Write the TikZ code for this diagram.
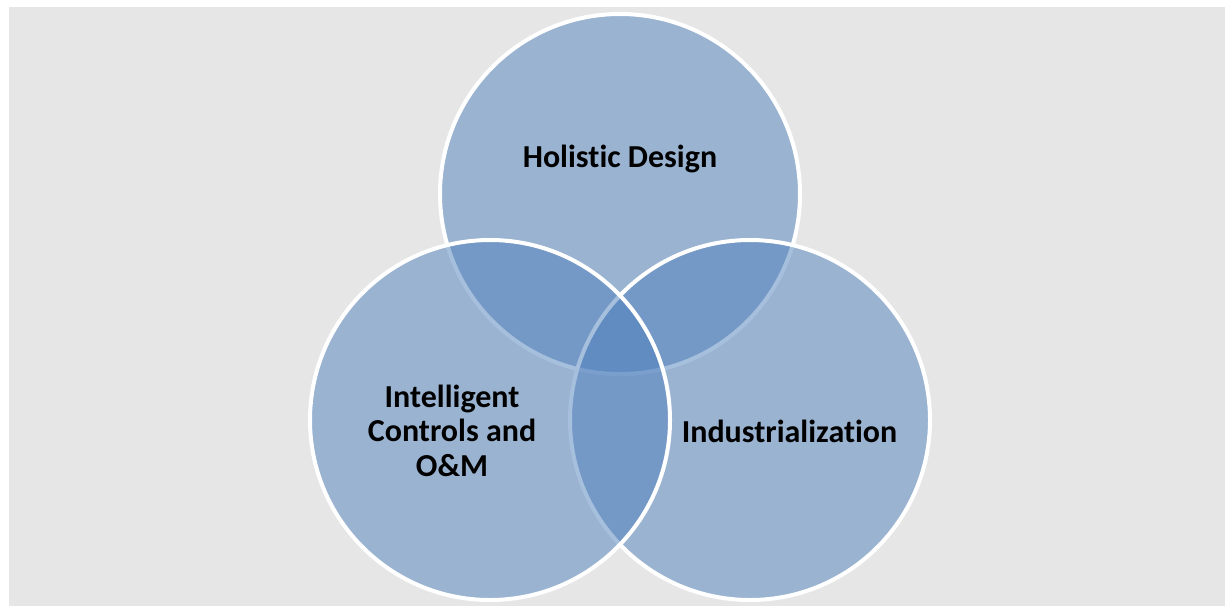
\documentclass[tikz,border=0pt]{standalone}
\usepackage{fontspec}
\setmainfont[Ligatures=NoCommon]{Carlito}
\definecolor{bgray}{HTML}{E6E6E6}
\definecolor{vblue}{HTML}{4F81BD}
\begin{document}
\begin{tikzpicture}[x=1pt,y=-1pt,
  venn/.style={fill=vblue,fill opacity=0.5,draw=white,draw opacity=1,line width=4pt},
  lbl/.style={font=\fontsize{32}{34.5}\selectfont\bfseries,text=black,inner sep=0pt,align=center,anchor=base}]
\useasboundingbox (0,0) rectangle (1225,606);
\fill[white] (0,0) rectangle (1225,606);
\fill[bgray] (9,7) rectangle (1225,606);
\path[venn] (620,194) circle[radius=180];
\path[venn] (750,420) circle[radius=180];
\path[venn] (490,420) circle[radius=180];
\node[lbl] (hd) at (620,167.7) {Holistic Design};
\node[lbl] (ic) at (452,476) {Intelligent\\Controls and\\O\&M};
\node[lbl] (ind) at (789.5,442) {Industrialization};
\end{tikzpicture}
\end{document}
